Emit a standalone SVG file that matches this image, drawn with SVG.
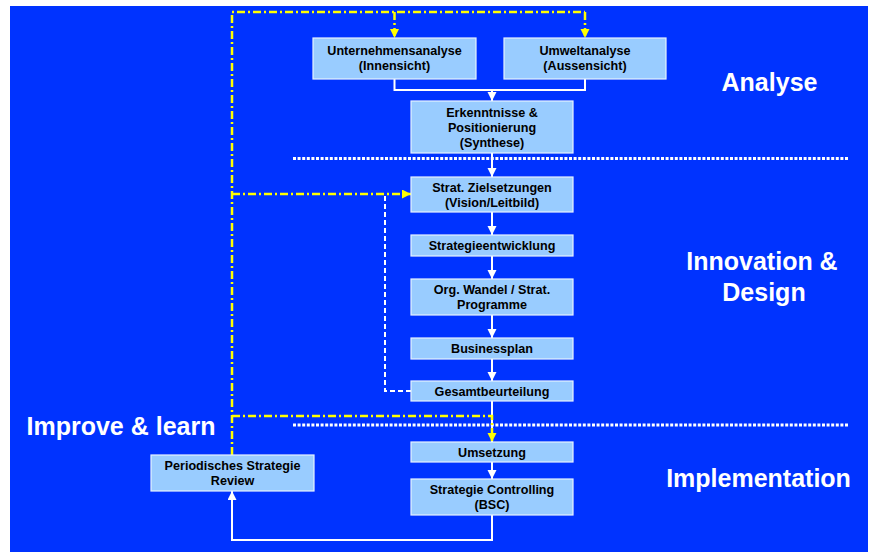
<svg xmlns="http://www.w3.org/2000/svg" width="874" height="552" viewBox="0 0 874 552">
<defs>
<style>
.box{fill:#99CCFF;stroke:#E6F2FF;stroke-width:1.2}
.t{font-family:"Liberation Sans",Arial,sans-serif;font-weight:bold;font-size:12.6px;fill:#000;text-anchor:middle}
.big{font-family:"Liberation Sans",Arial,sans-serif;font-weight:bold;font-size:25px;fill:#fff;text-anchor:middle}
.w{fill:none;stroke:#fff;stroke-width:2}
.wd{fill:none;stroke:#fff;stroke-width:2;stroke-dasharray:5 3}
.y{fill:none;stroke:#FFFF00;stroke-width:2.5;stroke-dasharray:8 3 2 3}
.dot{fill:none;stroke:#fff;stroke-width:3;stroke-dasharray:3 1.6}
</style>
<marker id="aw" markerUnits="userSpaceOnUse" markerWidth="10" markerHeight="10" refX="9" refY="4.5" orient="auto"><path d="M0,0 L9,4.5 L0,9 z" fill="#fff"/></marker>
<marker id="ay" markerUnits="userSpaceOnUse" markerWidth="10" markerHeight="10" refX="9" refY="4.5" orient="auto"><path d="M0,0 L9,4.5 L0,9 z" fill="#FFFF00"/></marker>
</defs>
<rect x="0" y="0" width="874" height="552" fill="#fff"/>
<rect x="10" y="6" width="858" height="546" fill="#0033FF"/>

<g id="separators">
<line class="dot" x1="293" y1="158.5" x2="848" y2="158.5"/>
<line class="dot" x1="293" y1="425" x2="848" y2="425"/>
</g>

<g id="connectors">
<path class="w" d="M394.5,79 V90 H585 V79"/>
<path class="w" d="M492,90 V101" marker-end="url(#aw)"/>
<path class="w" d="M492,153 V177" marker-end="url(#aw)"/>
<path class="w" d="M492,212 V235" marker-end="url(#aw)"/>
<path class="w" d="M492,256 V279" marker-end="url(#aw)"/>
<path class="w" d="M492,315 V338" marker-end="url(#aw)"/>
<path class="w" d="M492,359 V381" marker-end="url(#aw)"/>
<path class="w" d="M492,401 V442"/>
<path class="w" d="M492,462 V479" marker-end="url(#aw)"/>
<path class="w" d="M492,515 V540 H232 V491" marker-end="url(#aw)"/>
<path class="wd" d="M411,391 H385 V194"/>
<path class="y" d="M232,455 V12 H585"/>
<path class="y" d="M394.5,12 V38" marker-end="url(#ay)"/>
<path class="y" d="M585,12 V38" marker-end="url(#ay)"/>
<path class="y" d="M232,194 H411" marker-end="url(#ay)"/>
<path class="y" d="M232,416 H492 V442" marker-end="url(#ay)"/>
</g>

<g id="n-unternehmensanalyse"><rect class="box" x="313" y="38" width="163" height="41"/><text class="t" x="394.5" y="55">Unternehmensanalyse</text><text class="t" x="394.5" y="70">(Innensicht)</text></g>
<g id="n-umweltanalyse"><rect class="box" x="504" y="38" width="162" height="41"/><text class="t" x="585" y="55">Umweltanalyse</text><text class="t" x="585" y="70">(Aussensicht)</text></g>
<g id="n-erkenntnisse"><rect class="box" x="411" y="101" width="162" height="52"/><text class="t" x="492" y="116.5">Erkenntnisse &amp;</text><text class="t" x="492" y="131.5">Positionierung</text><text class="t" x="492" y="146.5">(Synthese)</text></g>
<g id="n-zielsetzungen"><rect class="box" x="411" y="177" width="162" height="35"/><text class="t" x="492" y="191.5">Strat. Zielsetzungen</text><text class="t" x="492" y="206.5">(Vision/Leitbild)</text></g>
<g id="n-strategieentwicklung"><rect class="box" x="411" y="235" width="162" height="21"/><text class="t" x="492" y="250">Strategieentwicklung</text></g>
<g id="n-orgwandel"><rect class="box" x="411" y="279" width="162" height="36"/><text class="t" x="492" y="294">Org. Wandel / Strat.</text><text class="t" x="492" y="309">Programme</text></g>
<g id="n-businessplan"><rect class="box" x="411" y="338" width="162" height="21"/><text class="t" x="492" y="353">Businessplan</text></g>
<g id="n-gesamtbeurteilung"><rect class="box" x="411" y="381" width="162" height="20"/><text class="t" x="492" y="395.5">Gesamtbeurteilung</text></g>
<g id="n-umsetzung"><rect class="box" x="411" y="442" width="162" height="20"/><text class="t" x="492" y="456.5">Umsetzung</text></g>
<g id="n-controlling"><rect class="box" x="411" y="479" width="162" height="36"/><text class="t" x="492" y="494">Strategie Controlling</text><text class="t" x="492" y="509">(BSC)</text></g>
<g id="n-review"><rect class="box" x="151" y="455" width="163" height="36"/><text class="t" x="232.5" y="470">Periodisches Strategie</text><text class="t" x="232.5" y="485">Review</text></g>

<g id="labels">
<text class="big" x="769.5" y="91">Analyse</text>
<text class="big" x="762" y="270">Innovation &amp;</text>
<text class="big" x="764" y="301">Design</text>
<text class="big" x="758.5" y="487">Implementation</text>
<text class="big" x="121" y="435">Improve &amp; learn</text>
</g>
</svg>
